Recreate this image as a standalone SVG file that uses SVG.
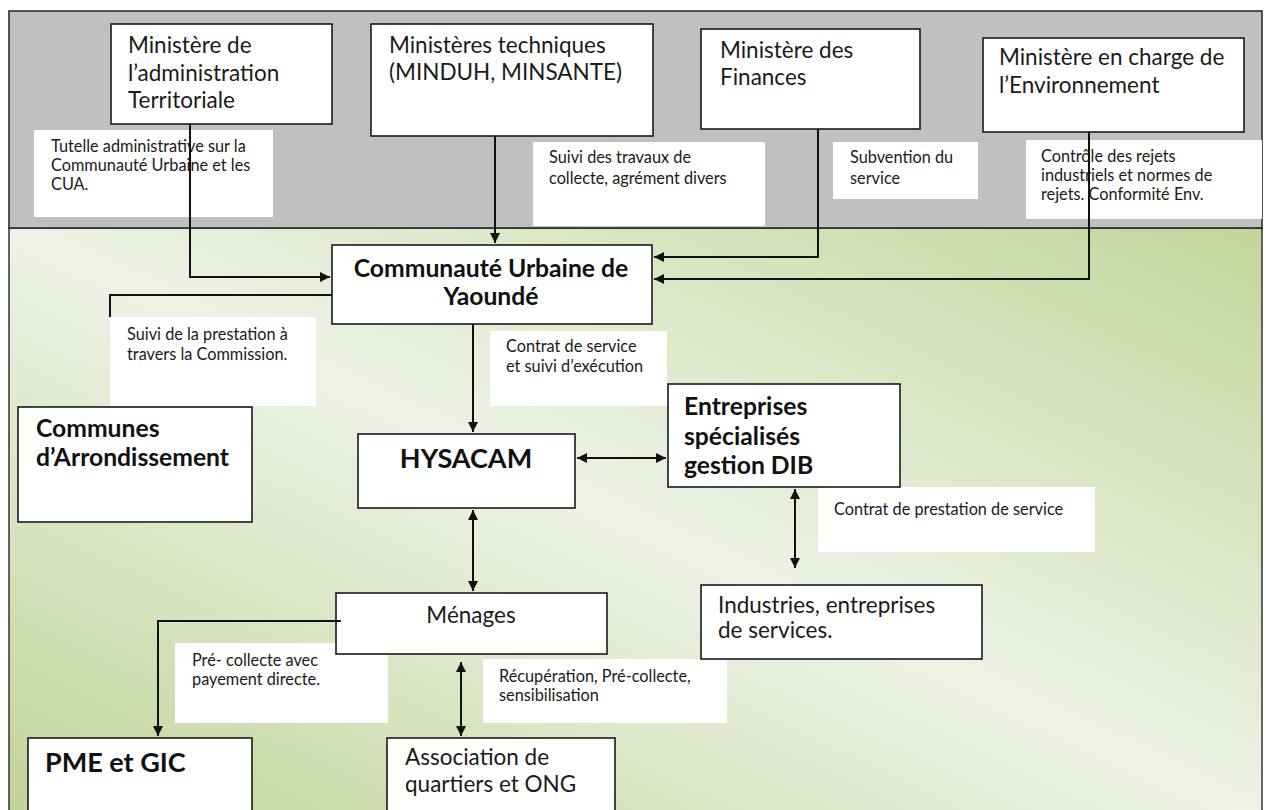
<svg xmlns="http://www.w3.org/2000/svg" width="1266" height="810" viewBox="0 0 1266 810">
<style>
.box{fill:#fff;stroke:#1a1a1a;stroke-width:1.6}
.lbl{fill:#fff}
.t{font-family:Lato,"Liberation Sans",sans-serif;font-size:22.5px;fill:#1a1a1a}
.b{font-family:Lato,"Liberation Sans",sans-serif;font-size:24.7px;font-weight:bold;fill:#111}
.bb{font-family:Lato,"Liberation Sans",sans-serif;font-size:27px;font-weight:bold;fill:#111}
.s{font-family:Lato,"Liberation Sans",sans-serif;font-size:16.3px;fill:#1a1a1a}
.c{fill:none;stroke:#111;stroke-width:2}
</style>
<defs>
<linearGradient id="bg" x1="1" y1="0" x2="0" y2="1">
<stop offset="0" stop-color="#c3d59b"/>
<stop offset="0.5" stop-color="#eef3e6"/>
<stop offset="1" stop-color="#c0d398"/>
</linearGradient>
<marker id="ah" viewBox="0 0 10 10" refX="10" refY="5" markerWidth="5" markerHeight="5" orient="auto-start-reverse">
<path d="M0,0 L10,5 L0,10 z" fill="#111"/>
</marker>
</defs>
<rect x="0" y="0" width="1266" height="810" fill="#fff"/>
<rect x="9" y="228" width="1253" height="590" fill="url(#bg)" stroke="#333" stroke-width="1.5"/>
<rect x="9" y="11" width="1253" height="217" fill="#c0c0c0" stroke="#222" stroke-width="1.5"/>

<g id="lbl-tutelle"><rect class="lbl" x="34" y="130" width="239" height="87"/>
<text class="s" x="51" y="152">Tutelle administrative sur la</text><text class="s" x="51" y="171">Communauté Urbaine et les</text><text class="s" x="51" y="190">CUA.</text></g>
<g id="lbl-suivi-travaux"><rect class="lbl" x="533" y="142" width="232" height="84"/>
<text class="s" x="549" y="163">Suivi des travaux de</text><text class="s" x="549" y="184">collecte, agrément divers</text></g>
<g id="lbl-subvention"><rect class="lbl" x="833" y="142" width="145" height="57"/>
<text class="s" x="850" y="163">Subvention du</text><text class="s" x="850" y="184">service</text></g>
<g id="lbl-controle"><rect class="lbl" x="1026" y="140" width="236" height="79"/>
<text class="s" x="1041" y="162">Contrôle des rejets</text><text class="s" x="1041" y="181">industriels et normes de</text><text class="s" x="1041" y="200">rejets. Conformité Env.</text></g>
<g id="lbl-suivi-prestation"><rect class="lbl" x="110" y="317" width="206" height="89"/>
<text class="s" x="127" y="340">Suivi  de la prestation à</text><text class="s" x="127" y="360">travers la Commission.</text></g>
<g id="lbl-contrat"><rect class="lbl" x="490" y="331" width="177" height="75"/>
<text class="s" x="506" y="352">Contrat de service</text><text class="s" x="506" y="372">et suivi d’exécution</text></g>
<g id="lbl-contrat-prestation"><rect class="lbl" x="818" y="487" width="277" height="65"/>
<text class="s" x="834" y="515">Contrat de prestation de service</text></g>
<g id="lbl-precollecte"><rect class="lbl" x="175" y="643" width="213" height="80"/>
<text class="s" x="192" y="666">Pré- collecte avec</text><text class="s" x="192" y="685">payement directe.</text></g>
<g id="lbl-recup"><rect class="lbl" x="483" y="659" width="244" height="64"/>
<text class="s" x="499" y="682">Récupération, Pré-collecte,</text><text class="s" x="499" y="701">sensibilisation</text></g>

<g id="n-minat"><rect class="box" x="111" y="24" width="221" height="100"/>
<text class="t" x="128" y="53">Ministère de</text><text class="t" x="128" y="81">l’administration</text><text class="t" x="128" y="108">Territoriale</text></g>
<g id="n-mintech"><rect class="box" x="371" y="24" width="282" height="112"/>
<text class="t" x="389" y="53">Ministères techniques</text><text class="t" x="389" y="80">(MINDUH, MINSANTE)</text></g>
<g id="n-minfi"><rect class="box" x="701" y="29" width="219" height="100"/>
<text class="t" x="720" y="58">Ministère des</text><text class="t" x="720" y="85">Finances</text></g>
<g id="n-minenv"><rect class="box" x="983" y="38" width="261" height="94"/>
<text class="t" x="999" y="65">Ministère en charge de</text><text class="t" x="999" y="93">l’Environnement</text></g>
<g id="n-cuy"><rect class="box" x="332" y="245" width="320" height="79"/>
<text class="b" x="491" y="277" text-anchor="middle">Communauté Urbaine de</text><text class="b" x="491" y="305" text-anchor="middle">Yaoundé</text></g>
<g id="n-communes"><rect class="box" x="18" y="407" width="234" height="115"/>
<text class="b" x="36" y="437">Communes</text><text class="b" x="36" y="466">d’Arrondissement</text></g>
<g id="n-hysacam"><rect class="box" x="358" y="434" width="217" height="74"/>
<text class="bb" x="466" y="468" text-anchor="middle">HYSACAM</text></g>
<g id="n-dib"><rect class="box" x="668" y="384" width="232" height="103"/>
<text class="b" x="684" y="415">Entreprises</text><text class="b" x="684" y="445">spécialisés</text><text class="b" x="684" y="474">gestion DIB</text></g>
<g id="n-industries"><rect class="box" x="701" y="585" width="281" height="74"/>
<text class="t" x="718" y="613">Industries, entreprises</text><text class="t" x="718" y="638">de services.</text></g>
<g id="n-menages"><rect class="box" x="336" y="593" width="271" height="61"/>
<text class="t" x="471" y="623" text-anchor="middle">Ménages</text></g>
<g id="n-pme"><rect class="box" x="28" y="738" width="224" height="90"/>
<text class="bb" x="45" y="772">PME et GIC</text></g>
<g id="n-asso"><rect class="box" x="387" y="738" width="228" height="90"/>
<text class="t" x="405" y="765">Association de</text><text class="t" x="405" y="792">quartiers et ONG</text></g>

<g id="connectors">
<path class="c" d="M190,124 V277 H330" marker-end="url(#ah)"/>
<path class="c" d="M495,136 V243" marker-end="url(#ah)"/>
<path class="c" d="M818,129 V257 H654" marker-end="url(#ah)"/>
<path class="c" d="M1089,132 V279 H654" marker-end="url(#ah)"/>
<path class="c" d="M332,295 H110 V317"/>
<path class="c" d="M473,324 V432" marker-end="url(#ah)"/>
<path class="c" d="M577,458 H666" marker-start="url(#ah)" marker-end="url(#ah)"/>
<path class="c" d="M795,489 V568" marker-start="url(#ah)" marker-end="url(#ah)"/>
<path class="c" d="M473,510 V591" marker-start="url(#ah)" marker-end="url(#ah)"/>
<path class="c" d="M341,621 H158 V736" marker-end="url(#ah)"/>
<path class="c" d="M461,662 V736" marker-start="url(#ah)" marker-end="url(#ah)"/>
</g>
</svg>
